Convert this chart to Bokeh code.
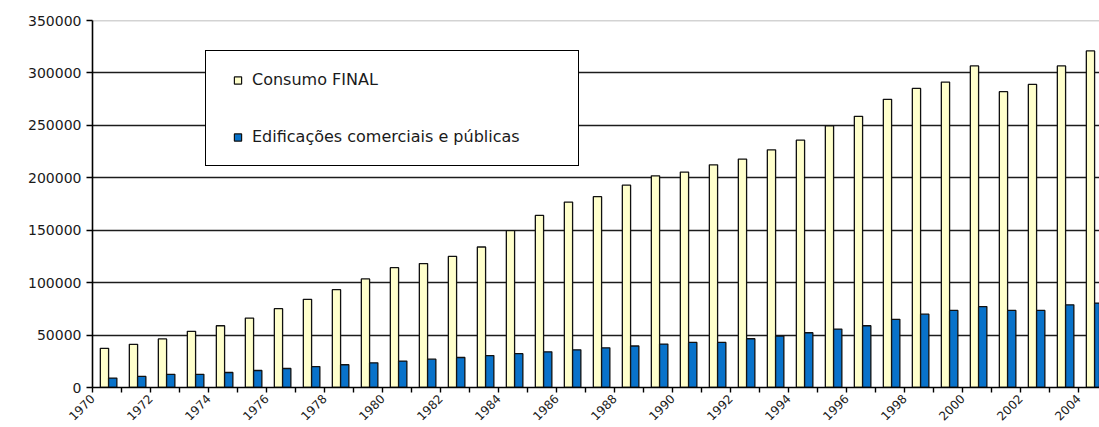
from math import pi

import numpy as np
from bokeh.embed import file_html
from bokeh.models import (ColumnDataSource, FixedTicker, Legend, LegendItem,
                          NumeralTickFormatter, Range1d, Span)
from bokeh.plotting import figure
from bokeh.resources import INLINE

# Consumo de energia por ano
anos = [1970, 1971, 1972, 1973, 1974, 1975, 1976, 1977, 1978, 1979,
        1980, 1981, 1982, 1983, 1984, 1985, 1986, 1987, 1988, 1989,
        1990, 1991, 1992, 1993, 1994, 1995, 1996, 1997, 1998, 1999,
        2000, 2001, 2002, 2003, 2004]

consumo_final = [37400, 41200, 46300, 53600, 58900, 66200, 75200, 84100, 93300, 103500,
                 114300, 118200, 125000, 134000, 149600, 164100, 176800, 182000, 193000, 201900,
                 205400, 212400, 217800, 226700, 235900, 249500, 258600, 274800, 285200, 291300,
                 306700, 282100, 289000, 306700, 321000]

edificacoes = [9000, 10600, 12600, 12600, 14300, 16200, 18100, 20000, 21700, 23500,
               25200, 27000, 28600, 30400, 32300, 34000, 35900, 37800, 39600, 41400,
               43000, 43000, 46500, 49000, 52200, 55700, 58900, 65000, 69900, 73500,
               77200, 73500, 73500, 78800, 80500]

ticks_y = [0, 50000, 100000, 150000, 200000, 250000, 300000, 350000]

serie_a = "Consumo FINAL"
serie_b = "Edificações comerciais e públicas"

# Aparência
AMARELO = "#FFFFCC"
AZUL = "#0872CA"
FONTE = "DejaVu Sans"
LARGURA_BARRA = 0.285
CENTRO_PAR = 0.555          # centro do par de barras dentro de cada categoria
BORDA_ESQ = 92
LARGURA = 1099
PX_POR_CATEGORIA = 29

n = len(anos)
pos = np.arange(n)
fonte = ColumnDataSource(dict(
    ano=anos,
    xa=pos + CENTRO_PAR - LARGURA_BARRA / 2,
    xb=pos + CENTRO_PAR + LARGURA_BARRA / 2,
    consumo=consumo_final,
    edif=edificacoes,
))

p = figure(
    width=LARGURA, height=427,
    x_range=Range1d(0, (LARGURA - BORDA_ESQ) / PX_POR_CATEGORIA),
    y_range=Range1d(ticks_y[0], ticks_y[-1]),
    output_backend="svg", toolbar_location=None,
    min_border_left=BORDA_ESQ, min_border_right=0,
    min_border_top=20, min_border_bottom=40,
)
p.outline_line_color = None
p.background_fill_color = "white"
p.border_fill_color = "white"

# Grade horizontal
p.xgrid.visible = False
p.ygrid.ticker = FixedTicker(ticks=ticks_y[:-1])
p.ygrid.grid_line_color = "#1c1c1c"
p.ygrid.grid_line_width = 1.3
p.add_layout(Span(location=ticks_y[-1], dimension="width",
                  line_color="#a8a8a8", line_width=1.3, level="underlay"))

# Barras
ra = p.vbar(x="xa", top="consumo", bottom=0, width=LARGURA_BARRA, source=fonte,
            fill_color=AMARELO, line_color="#111111", line_width=1.3)
rb = p.vbar(x="xb", top="edif", bottom=0, width=LARGURA_BARRA, source=fonte,
            fill_color=AZUL, line_color="#111111", line_width=1.3)

# Eixo Y
p.yaxis.ticker = FixedTicker(ticks=ticks_y)
p.yaxis.formatter = NumeralTickFormatter(format="0")
p.yaxis.axis_line_color = "black"
p.yaxis.axis_line_width = 1.6
p.yaxis.major_tick_line_color = "black"
p.yaxis.major_tick_line_width = 1.4
p.yaxis.major_tick_out = 6
p.yaxis.major_tick_in = 0
p.yaxis.minor_tick_out = 0
p.yaxis.minor_tick_in = 0
p.yaxis.major_label_standoff = 5
p.yaxis.major_label_text_font = FONTE
p.yaxis.major_label_text_font_size = "14px"
p.yaxis.major_label_text_color = "#1a1a1a"

# Eixo X: marcas nos limites das categorias, rótulo a cada dois anos
p.xaxis.ticker = FixedTicker(ticks=list(range(n)))
p.xaxis.major_label_overrides = {i: (str(a) if i % 2 == 0 else "") for i, a in enumerate(anos)}
p.xaxis.major_label_orientation = pi / 4
p.xaxis.axis_line_color = "black"
p.xaxis.axis_line_width = 1.6
p.xaxis.major_tick_line_color = "black"
p.xaxis.major_tick_line_width = 1.4
p.xaxis.major_tick_out = 5
p.xaxis.major_tick_in = 0
p.xaxis.minor_tick_out = 0
p.xaxis.minor_tick_in = 0
p.xaxis.major_label_standoff = 4
p.xaxis.major_label_text_font = FONTE
p.xaxis.major_label_text_font_size = "12px"
p.xaxis.major_label_text_color = "#1a1a1a"

# Marcadores quadrados usados apenas na legenda
la = p.scatter(x="xa", y="consumo", source=fonte, marker="square",
               fill_color=AMARELO, line_color="#111111", line_width=1.2, visible=False)
lb = p.scatter(x="xb", y="edif", source=fonte, marker="square",
               fill_color=AZUL, line_color="#111111", line_width=1.2, visible=False)

legenda = Legend(
    items=[LegendItem(label=serie_a, renderers=[la]),
           LegendItem(label=serie_b, renderers=[lb])],
    location=(113, 221), orientation="vertical",
    padding=19, spacing=38, margin=0,
    glyph_width=25, glyph_height=18, label_height=18, label_width=307,
    label_standoff=2,
    border_line_color="black", border_line_width=1.6, border_line_alpha=1.0,
    background_fill_color="white", background_fill_alpha=1.0,
    label_text_font=FONTE, label_text_font_size="16px", label_text_color="#1a1a1a",
)
p.add_layout(legenda)

open("out.html", "w").write(file_html(p, INLINE))
